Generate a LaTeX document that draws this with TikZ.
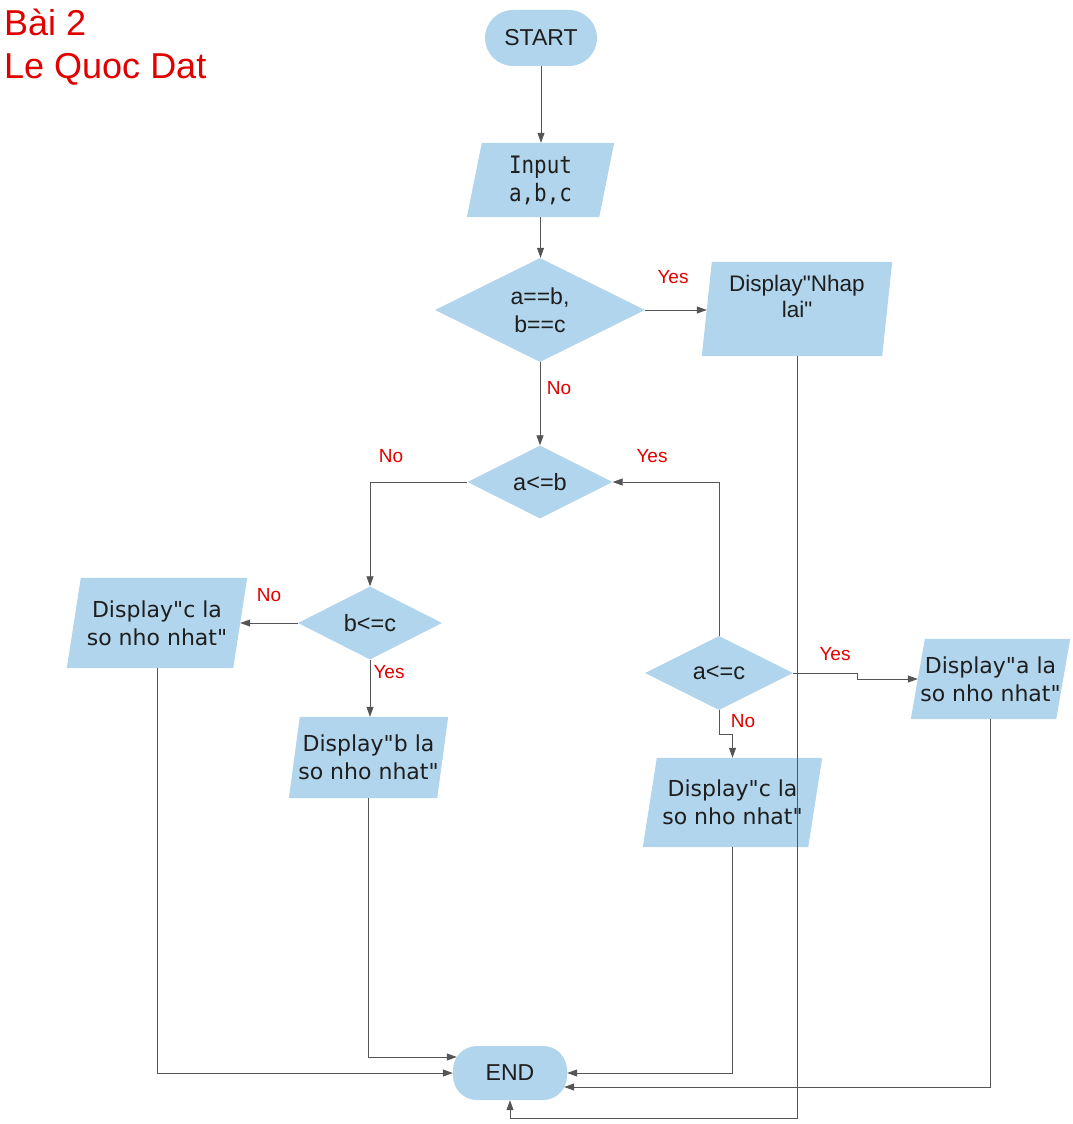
\documentclass[tikz,border=0pt]{standalone}
\usepackage{fontspec}
\setmainfont{Liberation Sans}[Ligatures=TeXOff]
\newfontfamily\dv{DejaVu Sans}[Ligatures=TeXOff]
\newfontfamily\dvm{DejaVu Sans Mono}[FakeStretch=0.87,Ligatures=TeXOff]
\usetikzlibrary{shapes.geometric,arrows.meta,backgrounds}
\definecolor{boxfill}{RGB}{176,213,237}
\definecolor{txt}{RGB}{30,30,30}
\definecolor{lbl}{RGB}{225,0,0}
\definecolor{ln}{RGB}{85,85,85}
\tikzset{
  term/.style={fill=boxfill, rounded corners=#1, text=txt, inner sep=0pt, font=\fontsize{23}{26}\selectfont},
  para/.style={draw=none, inner sep=0pt, align=center, text=txt, font=\dv\fontsize{22}{28}\selectfont},
  ptext/.style={inner sep=0pt, align=center, text=txt, font=\fontsize{22.5}{26}\selectfont},
  dec/.style={diamond, aspect=2, inner sep=0pt, fill=boxfill, text=txt, align=center, font=\fontsize{23.5}{28}\selectfont},
  lab/.style={text=lbl, font=\fontsize{19}{21}\selectfont, inner sep=0pt},
  ttl/.style={text=lbl, font=\fontsize{36}{40}\selectfont, inner sep=0pt, anchor=base west},
  arr/.style={draw=ln, line width=0.8pt, -{Triangle[length=10pt,width=7pt,fill=ln]}}
}
\begin{document}
\begin{tikzpicture}[x=1pt,y=-1pt]
\useasboundingbox (0,0) rectangle (1073,1124);
% title
\node[ttl] (t1) at (4,36) {Bài 2};
\node[ttl] (t2) at (4,78) {Le Quoc Dat};
% nodes
\node[term=28pt, minimum width=112pt, minimum height=56pt] (start) at (541,38) {START};
\node[para, minimum width=147pt, minimum height=74pt, font=\dvm\fontsize{24}{28}\selectfont] (inp) at (540.5,180) {Input\\a,b,c};
\node[dec, minimum width=210pt, minimum height=104pt, font=\fontsize{23}{28}\selectfont] (d1) at (540,310) {a==b,\\b==c};
\node[para, minimum width=190pt, minimum height=94pt] (nhap) at (797,309) {};
\node[ptext] (nhapT) at ([yshift=13pt]nhap.center) {Display"Nhap\\lai"};
\node[dec, minimum width=145pt, minimum height=73pt] (d2) at (540,482) {a<=b};
\node[dec, minimum width=144pt, minimum height=73pt] (d3) at (370,623) {b<=c};
\node[para, minimum width=180pt, minimum height=90pt] (dispc1) at (157,623) {Display"c la\\so nho nhat"};
\node[para, minimum width=159pt, minimum height=81pt] (dispb) at (368.5,757.5) {Display"b la\\so nho nhat"};
\node[dec, minimum width=148pt, minimum height=74pt] (d4) at (719,673) {a<=c};
\node[para, minimum width=159pt, minimum height=80pt] (dispa) at (990.5,679) {Display"a la\\so nho nhat"};
\node[para, minimum width=179pt, minimum height=89pt] (dispc2) at (732.5,802.5) {Display"c la\\so nho nhat"};
\node[term=24pt, minimum width=114pt, minimum height=54pt] (end) at (510,1073) {END};
% parallelogram fills
\begin{scope}[on background layer]
\foreach \n/\s in {inp/15,nhap/10,dispc1/14,dispb/11,dispa/14,dispc2/14}
  \fill[boxfill] ([xshift=\s pt]\n.north west) -- (\n.north east) -- ([xshift=-\s pt]\n.south east) -- (\n.south west) -- cycle;
\end{scope}
% connectors
\draw[arr] (start.south) -- (start.south |- inp.north);
\draw[arr] (inp.south) -- (inp.south |- d1.north);
\draw[arr] (d1.east) -- ([xshift=5pt]d1.east -| nhap.west);
\draw[arr] (d1.south) -- (d2.north);
\draw[arr] (d2.west) -| (d3.north);
\draw[arr] (d4.north) |- (d2.east);
\draw[arr] (d3.west) -- ([xshift=-7pt]dispc1.east);
\draw[arr] (d3.south) -- (d3.south |- dispb.north);
\draw[arr] (d4.east) -- ++(64,0) |- ([xshift=7pt]dispa.west);
\draw[arr] (d4.south) -- ++(0,24) -| (dispc2.north);
\draw[arr] (dispc1.south) |- (end.west);
\draw[arr] (dispb.south) |- ([xshift=4pt,yshift=16pt]end.west);
\draw[arr] (dispc2.south) |- (end.east);
\draw[arr] (dispa.south) |- ([xshift=-3pt,yshift=-14pt]end.east);
\draw[arr] (nhap.south) -- ++(0,762) -| (end.south);
% labels
\node[lab] (l1) at (673,277) {Yes};
\node[lab] (l2) at (559,388) {No};
\node[lab] (l3) at (391,456) {No};
\node[lab] (l4) at (652,456) {Yes};
\node[lab] (l5) at (269,595) {No};
\node[lab] (l6) at (389,672) {Yes};
\node[lab] (l7) at (835,654) {Yes};
\node[lab] (l8) at (743,721) {No};
\end{tikzpicture}
\end{document}
